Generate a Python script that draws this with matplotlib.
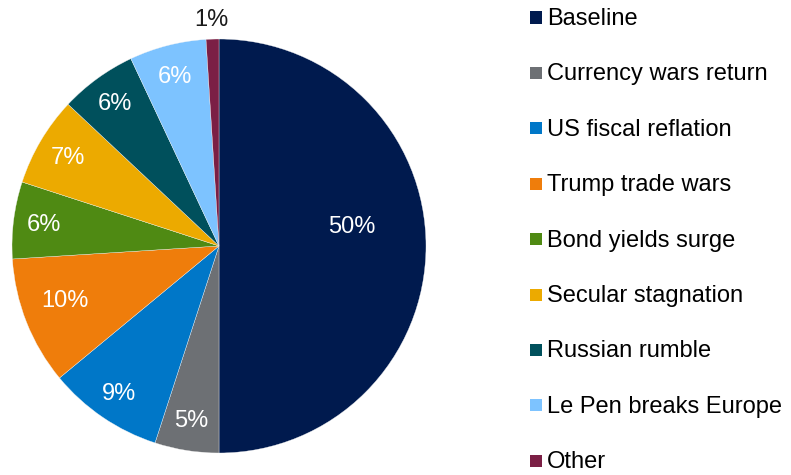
import matplotlib
matplotlib.use("Agg")
import matplotlib.pyplot as plt
from matplotlib.patches import Rectangle
import numpy as np

plt.rcParams['font.family'] = ['Liberation Sans', 'DejaVu Sans']

categories = ["Baseline", "Currency wars return", "US fiscal reflation", "Trump trade wars",
              "Bond yields surge", "Secular stagnation", "Russian rumble",
              "Le Pen breaks Europe", "Other"]
values = [50, 5, 9, 10, 6, 7, 6, 6, 1]
labels = ["50%", "5%", "9%", "10%", "6%", "7%", "6%", "6%", "1%"]
colors = ["#001a4e", "#6d7074", "#0077c8", "#ef7d0b", "#4f8a13", "#ecaa00",
          "#00505c", "#7dc3ff", "#7b1f45"]

W, H = 791, 475
fig = plt.figure(figsize=(W / 100, H / 100), dpi=100)
cx, cy, R = 219, 246, 207
ax = fig.add_axes([(cx - R) / W, (H - cy - R) / H, 2 * R / W, 2 * R / H])
wedges, _ = ax.pie(values, colors=colors, startangle=90, counterclock=False,
                   radius=1.0, wedgeprops=dict(linewidth=0.25, edgecolor="#f4f4f4"))
ax.set_xlim(-1, 1)
ax.set_ylim(-1, 1)
ax.set_aspect("equal")
ax.axis("off")

# label placement (distance, angle offset in degrees), text colour
dists = [0.65, 0.85, 0.86, 0.79, 0.85, 0.85, 0.855, 0.85, 1.10]
offs = [8.5, 0, 0, -2.4, 0, 0, 0, 0, 0]
tcols = ["white"] * 8 + ["#1a1a1a"]
for w, lab, d, o, tc in zip(wedges, labels, dists, offs, tcols):
    ang = np.deg2rad((w.theta1 + w.theta2) / 2 + o)
    ax.text(d * np.cos(ang), d * np.sin(ang) - 0.006, lab, ha="center", va="center",
            fontsize=17, color=tc)

# legend
y0, dy = 17.5, 55.4
for i, (cat, col) in enumerate(zip(categories, colors)):
    y = y0 + i * dy
    fig.patches.append(Rectangle(((530) / W, (H - y - 6) / H), 12 / W, 12 / H,
                                 transform=fig.transFigure, facecolor=col,
                                 edgecolor="none"))
    fig.text(547 / W, (H - y - 1.5) / H, cat, ha="left", va="center", fontsize=17,
             color="#000000")

fig.savefig("out.png", dpi=100)
